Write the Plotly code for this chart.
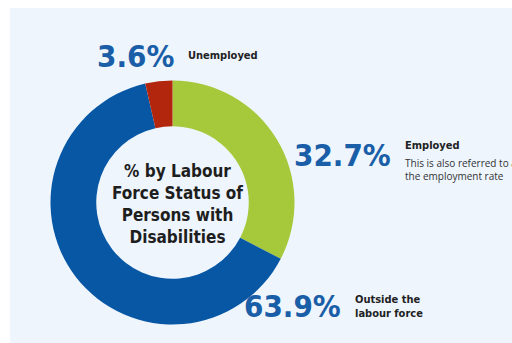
import plotly.graph_objects as go

labels = ["Employed", "Outside the labour force", "Unemployed"]
values = [32.7, 63.9, 3.6]
colors = ["#A5C93A", "#0757A5", "#B3260E"]
desc = ["Employed", "Outside the<br>labour force", "Unemployed"]
subdesc = ["This is also referred to as<br>the employment rate", "", ""]
center_title = "% by Labour<br>Force Status of<br>Persons with<br>Disabilities"

W, H = 512, 343
BG = "#EEF5FD"
COND = "DejaVu Sans Condensed, sans-serif"

cx, cy, r = 172.5, 202.5, 122

fig = go.Figure()
fig.add_trace(go.Pie(
    labels=labels, values=values, sort=False, direction="clockwise", rotation=0,
    hole=0.625, marker=dict(colors=colors, line=dict(width=0)),
    textinfo="none", hoverinfo="label+percent", showlegend=False,
    domain=dict(x=[(cx - r) / W, (cx + r) / W], y=[1 - (cy + r) / H, 1 - (cy - r) / H]),
))

def px(x):
    return x / W

def py(y):
    return 1 - y / H

ann = []
# percentage label anchor (right edge, vertical centre) in pixels for each category
pct_pos = {"Employed": (393, 155), "Outside the labour force": (343, 306), "Unemployed": (176, 56)}
for lab, val, d, s in zip(labels, values, desc, subdesc):
    x, y = pct_pos[lab]
    ann.append(dict(x=px(x), y=py(y), xref="paper", yref="paper", xanchor="right", yanchor="middle",
                    text=f"<b>{val:.1f}%</b>", showarrow=False,
                    font=dict(family=COND, size=31, color="#1A5EA8")))
    if s:
        ann.append(dict(x=px(x + 10), y=py(y - 9), xref="paper", yref="paper", xanchor="left", yanchor="middle",
                        text=f"<b>{d}</b>", showarrow=False, align="left",
                        font=dict(family=COND, size=11, color="#222222")))
        ann.append(dict(x=px(x + 10), y=py(y + 14), xref="paper", yref="paper", xanchor="left", yanchor="middle",
                        text=s, showarrow=False, align="left",
                        font=dict(family="Open Sans, sans-serif", size=10, color="#333333")))
    else:
        ann.append(dict(x=px(x + 10), y=py(y), xref="paper", yref="paper", xanchor="left", yanchor="middle",
                        text=f"<b>{d}</b>", showarrow=False, align="left",
                        font=dict(family=COND, size=11, color="#222222")))

ann.append(dict(x=px(177), y=py(204), xref="paper", yref="paper", xanchor="center", yanchor="middle",
                text=f"<b>{center_title}</b>", showarrow=False, align="center",
                font=dict(family=COND, size=17, color="#1E1E1E")))

fig.update_layout(
    width=W, height=H, margin=dict(l=0, r=0, t=0, b=0),
    paper_bgcolor="white", plot_bgcolor="white",
    annotations=ann,
    shapes=[dict(type="rect", xref="paper", yref="paper", x0=10 / W, x1=1, y0=0, y1=1 - 8 / H,
                 fillcolor=BG, line=dict(width=0), layer="below")],
)

fig.write_html("out.html")
